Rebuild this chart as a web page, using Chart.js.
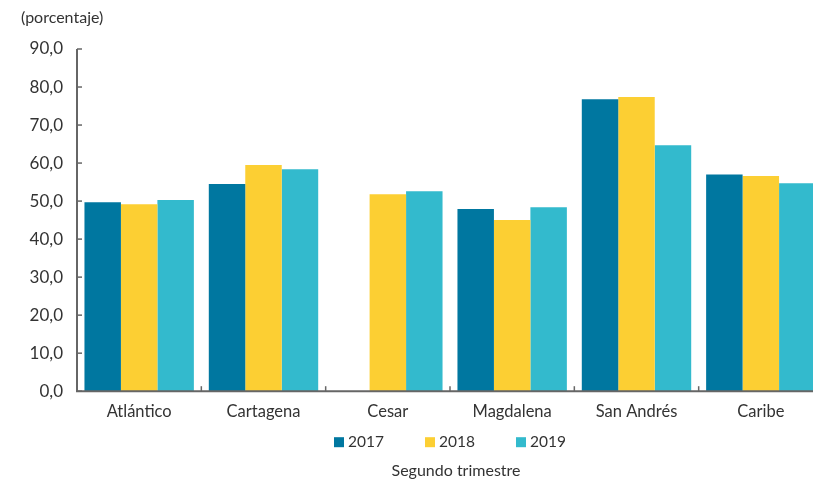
<!DOCTYPE html>
<html>
<head>
<meta charset="utf-8">
<script src="https://cdn.jsdelivr.net/npm/chart.js@4.4.0/dist/chart.umd.min.js"></script>
<style>
  html, body { margin: 0; padding: 0; background: #fff; overflow: hidden; }
  #wrap { width: 830px; height: 479px; }
</style>
</head>
<body>
<div id="wrap"><canvas id="chart" width="830" height="479"></canvas></div>
<script>
// datos
const regiones = ['Atlántico', 'Cartagena', 'Cesar', 'Magdalena', 'San Andrés', 'Caribe'];
const serie2017 = [49.7, 54.5, null, 47.9, 76.8, 57.0];
const serie2018 = [49.2, 59.5, 51.8, 45.0, 77.4, 56.6];
const serie2019 = [50.3, 58.4, 52.6, 48.4, 64.7, 54.7];
const anios = ['2017', '2018', '2019'];
const colores = ['#0077a0', '#fccf33', '#33bacd'];

const fuente = 'Lato, "Open Sans", sans-serif';

// ejes con marcas hacia dentro, leyenda, nota de unidades y pie
const ejesPlugin = {
  id: 'ejes',
  afterDraw(chart) {
    const ctx = chart.ctx;
    const x = chart.scales.x, y = chart.scales.y;
    ctx.save();
    ctx.strokeStyle = '#666';
    ctx.lineWidth = 2;
    ctx.beginPath();
    ctx.moveTo(x.left, y.top);
    ctx.lineTo(x.left, y.bottom);
    ctx.lineTo(x.right, y.bottom);
    ctx.stroke();
    ctx.lineWidth = 1.5;
    y.ticks.forEach((t, i) => {
      const py = y.getPixelForTick(i);
      ctx.beginPath();
      ctx.moveTo(x.left, py);
      ctx.lineTo(x.left + 5, py);
      ctx.stroke();
    });
    const paso = x.getPixelForValue(1) - x.getPixelForValue(0);
    for (let i = 1; i < regiones.length; i++) {
      const px = x.getPixelForValue(i) - paso / 2;
      ctx.beginPath();
      ctx.moveTo(px, y.bottom);
      ctx.lineTo(px, y.bottom - 5);
      ctx.stroke();
    }
    ctx.fillStyle = '#333';
    ctx.textBaseline = 'middle';
    ctx.font = '16px ' + fuente;
    ctx.fillText('(porcentaje)', 21, 18);

    // leyenda
    const centro = (x.left + x.right) / 2;
    ctx.font = '15.5px ' + fuente;
    chart.data.datasets.forEach((ds, i) => {
      const bx = centro - 116 + i * 91;
      ctx.fillStyle = ds.backgroundColor;
      ctx.fillRect(bx, y.bottom + 46, 10, 10);
      ctx.fillStyle = '#333';
      ctx.textAlign = 'left';
      ctx.fillText(ds.label, bx + 14, y.bottom + 51);
    });

    ctx.textAlign = 'center';
    ctx.font = '16px ' + fuente;
    ctx.fillText('Segundo trimestre', centro + 6, y.bottom + 80);
    ctx.restore();
  }
};

new Chart(document.getElementById('chart'), {
  type: 'bar',
  data: {
    labels: regiones,
    datasets: [
      { label: anios[0], data: serie2017, backgroundColor: colores[0] },
      { label: anios[1], data: serie2018, backgroundColor: colores[1] },
      { label: anios[2], data: serie2019, backgroundColor: colores[2] }
    ]
  },
  options: {
    responsive: false,
    animation: false,
    layout: { padding: { left: 0, right: 7, top: 49, bottom: 46 } },
    datasets: { bar: { categoryPercentage: 0.88, barPercentage: 1.0 } },
    scales: {
      x: {
        grid: { display: false, drawTicks: false },
        border: { display: false },
        ticks: { color: '#333', font: { family: fuente, size: 16.5, lineHeight: 1.2 }, padding: 11 }
      },
      y: {
        min: 0, max: 90,
        afterFit(s) { s.width = 77; },
        grid: { display: false, drawTicks: false },
        border: { display: false },
        ticks: {
          stepSize: 10,
          color: '#333',
          font: { family: fuente, size: 17 },
          padding: 14,
          callback: v => v.toFixed(1).replace('.', ',')
        }
      }
    },
    plugins: {
      legend: { display: false },
      title: { display: false },
      tooltip: { enabled: false }
    }
  },
  plugins: [ejesPlugin]
});
</script>
</body>
</html>
